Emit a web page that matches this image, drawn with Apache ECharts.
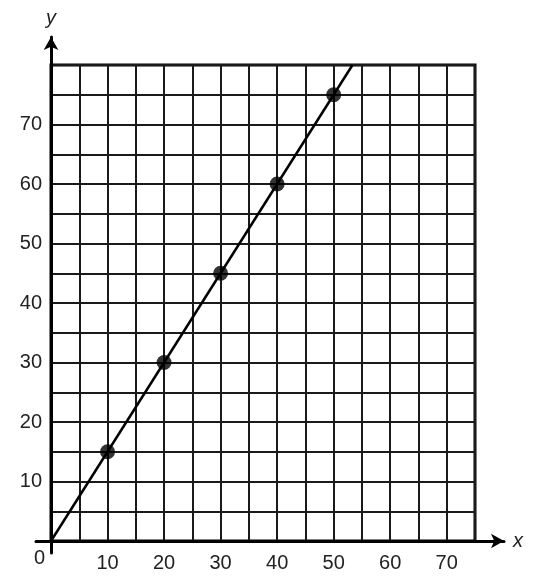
<!DOCTYPE html>
<html><head><meta charset="utf-8">
<script src="https://cdn.jsdelivr.net/npm/echarts@6/dist/echarts.min.js"></script>
<style>html,body{margin:0;padding:0;background:#fff}#c{width:540px;height:576px}</style>
</head><body><div id="c"></div>
<script>
const pointX = [10, 20, 30, 40, 50];
const pointY = [15, 30, 45, 60, 75];
const lineX = [0, 53.33];
const lineY = [0, 80];
const xLabels = [10, 20, 30, 40, 50, 60, 70];
const yLabels = [10, 20, 30, 40, 50, 60, 70];
const originLabel = '0';

const font = 'Liberation Sans';
const chart = echarts.init(document.getElementById('c'));
chart.setOption({
  animation: false,
  grid: [
    {left: 51, right: 65, top: 65, bottom: 35, show: true, borderColor: '#000', borderWidth: 3, backgroundColor: 'transparent'},
    {left: 36, right: 36, bottom: 35, height: 50},
    {left: 51, width: 50, top: 37, bottom: 23}
  ],
  xAxis: [
    {gridIndex: 0, type: 'value', min: 0, max: 75, interval: 5,
     axisLine: {show: false}, axisTick: {show: false},
     splitLine: {show: true, lineStyle: {color: '#1a1a1a', width: 2}},
     axisLabel: {margin: 12, fontFamily: font, fontSize: 20, color: '#222',
       formatter: v => (xLabels.indexOf(v) >= 0 ? String(v) : '')}},
    {gridIndex: 1, type: 'value', min: 0, max: 1,
     axisLine: {show: true, symbol: ['none', 'arrow'], symbolSize: [11, 13], lineStyle: {color: '#000', width: 3}},
     axisTick: {show: false}, axisLabel: {show: false}, splitLine: {show: false},
     name: 'x', nameLocation: 'end', nameGap: 9,
     nameTextStyle: {fontFamily: font, fontSize: 20, fontStyle: 'italic', color: '#222', verticalAlign: 'middle'}},
    {gridIndex: 2, type: 'value', show: false, min: 0, max: 1}
  ],
  yAxis: [
    {gridIndex: 0, type: 'value', min: 0, max: 80, interval: 5,
     axisLine: {show: false}, axisTick: {show: false},
     splitLine: {show: true, lineStyle: {color: '#1a1a1a', width: 2}},
     axisLabel: {margin: 9, fontFamily: font, fontSize: 20, color: '#222',
       formatter: v => (yLabels.indexOf(v) >= 0 ? String(v) : '')}},
    {gridIndex: 1, type: 'value', show: false, min: 0, max: 1},
    {gridIndex: 2, type: 'value', min: 0, max: 1,
     axisLine: {show: true, symbol: ['none', 'arrow'], symbolSize: [11, 13], lineStyle: {color: '#000', width: 3}},
     axisTick: {show: false}, axisLabel: {show: false}, splitLine: {show: false},
     name: 'y', nameLocation: 'end', nameGap: 9,
     nameTextStyle: {fontFamily: font, fontSize: 20, fontStyle: 'italic', color: '#222', align: 'center'}}
  ],
  series: [
    {type: 'line', xAxisIndex: 0, yAxisIndex: 0, data: lineX.map((x, i) => [x, lineY[i]]),
     showSymbol: false, lineStyle: {color: '#000', width: 2.5}, z: 5},
    {type: 'scatter', xAxisIndex: 0, yAxisIndex: 0, data: pointX.map((x, i) => [x, pointY[i]]),
     symbol: 'circle', symbolSize: 15, itemStyle: {color: '#000'}, z: 6}
  ]
});
const o = chart.convertToPixel({xAxisIndex: 0, yAxisIndex: 0}, [0, 0]);
chart.setOption({
  graphic: [{type: 'text', x: o[0] - 6, y: o[1] + 7,
    style: {text: originLabel, font: '20px "Liberation Sans"', fill: '#222', align: 'right', verticalAlign: 'top'}}]
});
</script></body></html>
